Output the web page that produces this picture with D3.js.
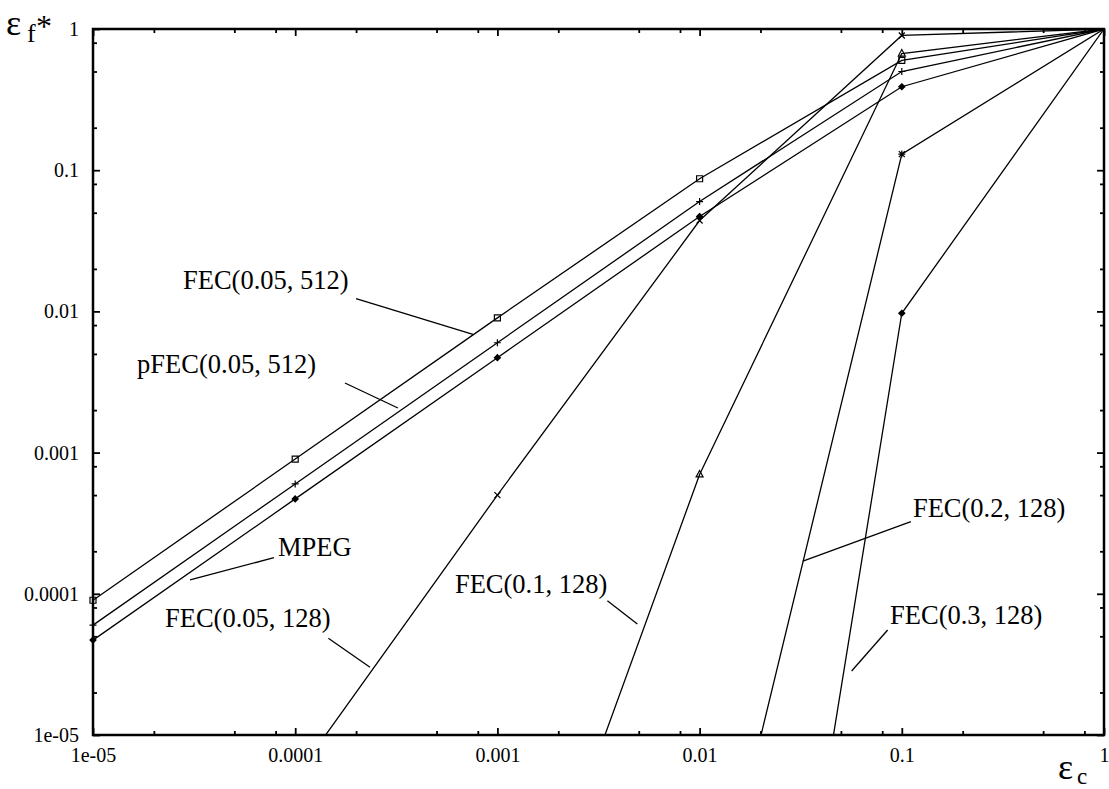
<!DOCTYPE html>
<html>
<head>
<meta charset="utf-8">
<script src="https://cdn.jsdelivr.net/npm/d3@7"></script>
<style>
body { margin: 0; background: #fff; }
svg { display: block; }
text { font-family: "Liberation Serif", "Times New Roman", serif; fill: #000; }
</style>
</head>
<body>
<div id="chart"></div>
<script>
// channel error rate (x) and frame error rate per scheme (y)
var errC = [1e-5, 1e-4, 1e-3, 1e-2, 0.1, 1];
var mpeg = [4.7e-5, 4.7e-4, 4.7e-3, 0.047, 0.39, 1];
var pfec05_512 = [6e-5, 6e-4, 6e-3, 0.06, 0.5, 1];
var fec05_512 = [9e-5, 9e-4, 9e-3, 0.087, 0.6, 1];
var fec05_128 = [null, 5e-6, 5e-4, 0.044, 0.9, 1];
var fec10_128 = [null, null, 8e-8, 7e-4, 0.67, 1];
var fec20_128 = [null, null, null, 1.6e-7, 0.13, 1];
var fec30_128 = [null, null, null, 1.4e-11, 0.0097, 1];

var majorTicks = [1e-5, 1e-4, 1e-3, 1e-2, 0.1, 1];
var tickLabels = ["1e-05", "0.0001", "0.001", "0.01", "0.1", "1"];
var minorSteps = [2, 5, 8];

var series = [
  {name: "MPEG", values: mpeg, marker: "diamond"},
  {name: "pFEC(0.05, 512)", values: pfec05_512, marker: "plus"},
  {name: "FEC(0.05, 512)", values: fec05_512, marker: "square"},
  {name: "FEC(0.05, 128)", values: fec05_128, marker: "cross"},
  {name: "FEC(0.1, 128)", values: fec10_128, marker: "triangle"},
  {name: "FEC(0.2, 128)", values: fec20_128, marker: "star"},
  {name: "FEC(0.3, 128)", values: fec30_128, marker: "diamond"}
];

// label placement, in log10 units of the two axes
var notes = [
  {text: "FEC(0.05, 512)", tx: -4.555, ty: -1.841, l: [-3.699, -1.910, -3.121, -2.163]},
  {text: "pFEC(0.05, 512)", tx: -4.782, ty: -2.436, l: [-3.754, -2.507, -3.492, -2.684]},
  {text: "MPEG", tx: -4.085, ty: -3.730, l: [-4.105, -3.744, -4.520, -3.902]},
  {text: "FEC(0.05, 128)", tx: -4.644, ty: -4.233, l: [-3.836, -4.315, -3.630, -4.520]},
  {text: "FEC(0.1, 128)", tx: -3.210, ty: -3.996, l: [-2.456, -4.049, -2.308, -4.214]},
  {text: "FEC(0.2, 128)", tx: -0.945, ty: -3.454, l: [-0.955, -3.489, -1.489, -3.768]},
  {text: "FEC(0.3, 128)", tx: -1.058, ty: -4.214, l: [-1.070, -4.256, -1.248, -4.547]}
];

var width = 1109, height = 789,
    margin = {top: 29, right: 5, bottom: 54, left: 93};

var svg = d3.select("#chart").append("svg")
    .attr("width", width)
    .attr("height", height);

var x = d3.scaleLog().domain([1e-5, 1]).range([margin.left, width - margin.right]),
    y = d3.scaleLog().domain([1e-5, 1]).range([height - margin.bottom, margin.top]);

var minorTicks = [];
majorTicks.slice(0, -1).forEach(function(d) {
  minorSteps.forEach(function(m) { minorTicks.push(d * m); });
});

function styleAxis(g) {
  g.select(".domain").remove();
  g.selectAll(".tick line").attr("stroke", "#000").attr("stroke-width", 1.8);
  g.selectAll(".tick text").attr("font-size", 20).attr("fill", "#000");
}

var x0 = x.range()[0], x1 = x.range()[1], y0 = y.range()[0], y1 = y.range()[1];

// major ticks with labels
svg.append("g").attr("transform", "translate(0," + y0 + ")")
  .call(d3.axisBottom(x).tickValues(majorTicks).tickFormat(function(d, i) { return tickLabels[i]; })
    .tickSizeInner(-7).tickSizeOuter(0).tickPadding(13))
  .call(styleAxis);
svg.append("g").attr("transform", "translate(" + x0 + ",0)")
  .call(d3.axisLeft(y).tickValues(majorTicks).tickFormat(function(d, i) { return tickLabels[i]; })
    .tickSizeInner(-7).tickSizeOuter(0).tickPadding(14))
  .call(styleAxis);
svg.append("g").attr("transform", "translate(0," + y1 + ")")
  .call(d3.axisTop(x).tickValues(majorTicks).tickFormat("").tickSizeInner(-7).tickSizeOuter(0))
  .call(styleAxis);
svg.append("g").attr("transform", "translate(" + x1 + ",0)")
  .call(d3.axisRight(y).tickValues(majorTicks).tickFormat("").tickSizeInner(-7).tickSizeOuter(0))
  .call(styleAxis);

// minor ticks
[[d3.axisBottom(x), "translate(0," + y0 + ")"], [d3.axisTop(x), "translate(0," + y1 + ")"],
 [d3.axisLeft(y), "translate(" + x0 + ",0)"], [d3.axisRight(y), "translate(" + x1 + ",0)"]]
.forEach(function(a) {
  svg.append("g").attr("transform", a[1])
    .call(a[0].tickValues(minorTicks).tickFormat("").tickSizeInner(-4).tickSizeOuter(0))
    .call(styleAxis);
});

// frame
svg.append("rect")
  .attr("x", x0).attr("y", y1)
  .attr("width", x1 - x0).attr("height", y0 - y1)
  .attr("fill", "none").attr("stroke", "#000").attr("stroke-width", 2.5);

svg.append("clipPath").attr("id", "plot-clip")
  .append("rect").attr("x", x0).attr("y", y1).attr("width", x1 - x0).attr("height", y0 - y1);

var line = d3.line()
  .defined(function(d) { return d.v != null; })
  .x(function(d) { return x(d.c); })
  .y(function(d) { return y(d.v); });

series.forEach(function(s) {
  s.points = errC.map(function(c, i) { return {c: c, v: s.values[i]}; });
});

svg.append("g").attr("clip-path", "url(#plot-clip)")
  .selectAll("path")
  .data(series)
  .enter().append("path")
  .attr("d", function(s) { return line(s.points); })
  .attr("fill", "none")
  .attr("stroke", "#000")
  .attr("stroke-width", 1.3);

var markerPath = {
  diamond: "M0,-3L3,0L0,3L-3,0Z",
  plus: "M-3.5,0H3.5M0,-3.5V3.5",
  square: "M-3,-3H3V3H-3Z",
  cross: "M-3,-3L3,3M-3,3L3,-3",
  triangle: "M0,-4L3.5,2.5H-3.5Z",
  star: "M-3,-3L3,3M-3,3L3,-3M-3.5,0H3.5M0,-3.5V3.5"
};

series.forEach(function(s) {
  svg.append("g").selectAll("path")
    .data(s.points.filter(function(d) { return d.v != null && d.v >= 1e-5 && d.c < 1; }))
    .enter().append("path")
    .attr("transform", function(d) { return "translate(" + x(d.c) + "," + y(d.v) + ")"; })
    .attr("d", markerPath[s.marker])
    .attr("fill", s.marker == "diamond" ? "#000" : "none")
    .attr("stroke", "#000")
    .attr("stroke-width", 1.2);
});

// labels and leader lines
var notesG = svg.append("g");
notes.forEach(function(n) {
  notesG.append("text")
    .attr("x", x(Math.pow(10, n.tx)))
    .attr("y", y(Math.pow(10, n.ty)))
    .attr("font-size", 26.5)
    .text(n.text);
  notesG.append("line")
    .attr("x1", x(Math.pow(10, n.l[0]))).attr("y1", y(Math.pow(10, n.l[1])))
    .attr("x2", x(Math.pow(10, n.l[2]))).attr("y2", y(Math.pow(10, n.l[3])))
    .attr("stroke", "#000").attr("stroke-width", 1.3);
});

// axis titles
svg.append("text").attr("x", 6).attr("y", 35).attr("font-size", 36).text("\u03b5");
svg.append("text").attr("x", 27).attr("y", 42).attr("font-size", 26).text("f");
svg.append("text").attr("x", 36).attr("y", 37).attr("font-size", 32).text("*");
svg.append("text").attr("x", 1058).attr("y", 779).attr("font-size", 36).text("\u03b5");
svg.append("text").attr("x", 1077).attr("y", 784).attr("font-size", 23).text("c");
</script>
</body>
</html>
